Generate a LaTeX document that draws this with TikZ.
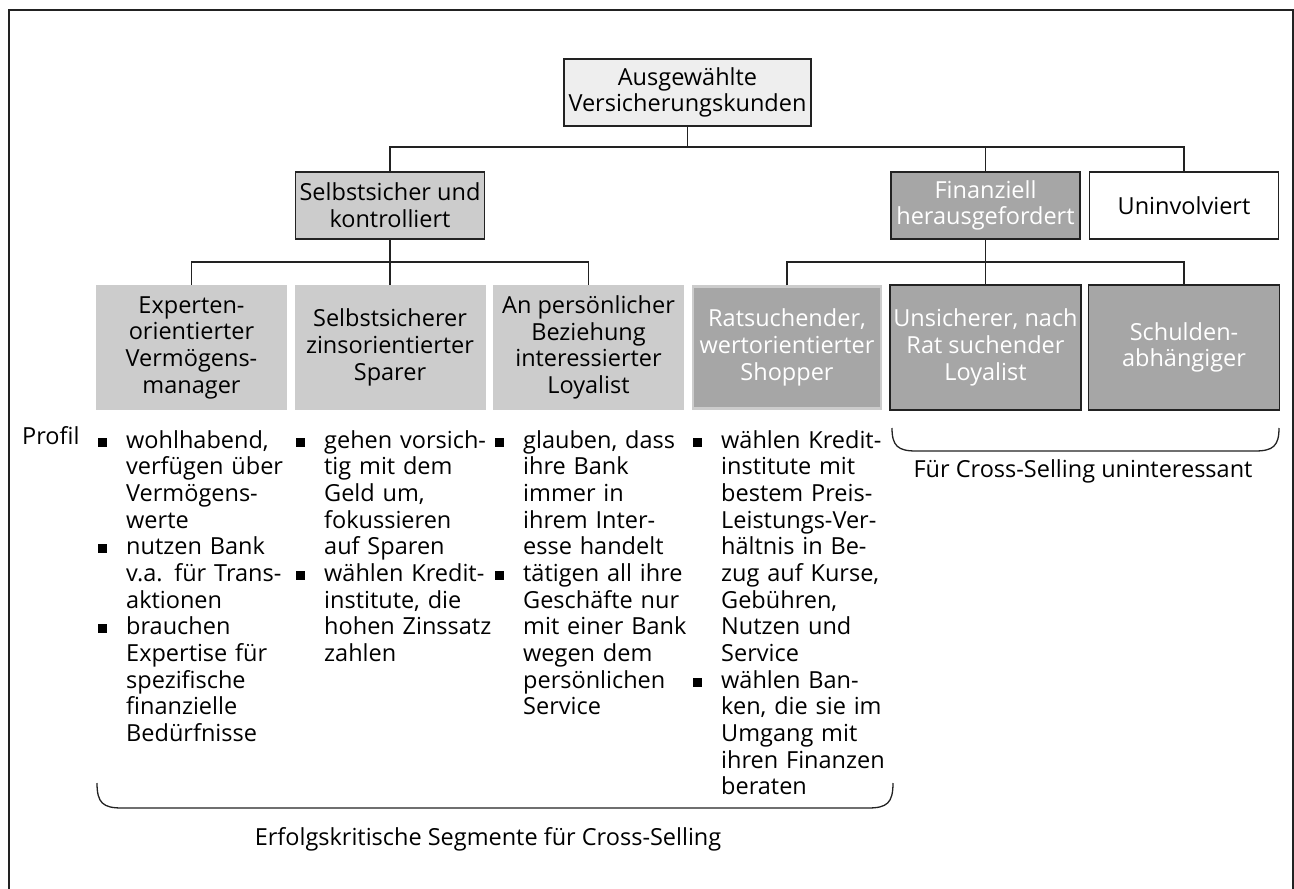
\documentclass[tikz,border=0pt]{standalone}
\usepackage{fontspec}
\setmainfont{Open Sans}
\newcommand\diagfont{\fontsize{23.5}{26.67}\selectfont}
% bullet item for the profile lists: square bullet hanging left of the text
\newcommand\bitem{\par\noindent\strut\llap{\raisebox{1.5pt}{\rule{9pt}{9pt}}\hspace{19pt}}}
\definecolor{boxlight}{HTML}{EEEEEE}
\definecolor{boxmid}{HTML}{CCCCCC}
\definecolor{boxdark}{HTML}{A6A6A6}
\definecolor{edge}{HTML}{222222}
\begin{document}
\begin{tikzpicture}[x=1pt,y=-1pt,
  box/.style={font=\diagfont, align=center, inner sep=0pt, minimum height=67pt},
  framed/.style={draw=edge, line width=1.6pt},
  seg/.style={font=\diagfont, align=center, inner sep=0pt, minimum width=191pt, minimum height=125pt},
  wire/.style={draw=edge, line width=1.3pt},
  brace/.style={draw=edge, line width=1.3pt},
  listcol/.style={font=\diagfont, anchor=north west, inner sep=0pt, text width=240pt, align=left},
  note/.style={font=\diagfont, inner sep=0pt}]
\useasboundingbox (0,0) rectangle (1294,889);
% outer frame (open at the bottom)
\draw[edge, line width=2.2pt] (9,889) -- (9,10) -- (1293,10) -- (1293,889);

% level 1
\node[box, framed, fill=boxlight, minimum width=247pt] (top) at (687.5,92.5) {Ausgewählte\\Versicherungskunden};
% level 2
\node[box, framed, fill=boxmid, minimum width=189pt] (sk) at (390,205.5) {Selbstsicher und\\kontrolliert};
\node[box, framed, fill=boxdark, text=white, minimum width=189pt] (fin) at (985.5,205.5) {Finanziell\\herausgefordert};
\node[box, framed, fill=white, minimum width=189pt] (un) at (1184,205.5) {Uninvolviert};
% level 3
\node[seg, fill=boxmid] (s1) at (191.5,347.5) {Experten-\\orientierter\\Vermögens-\\manager};
\node[seg, fill=boxmid] (s2) at (390,347.5) {Selbstsicherer\\zinsorientierter\\Sparer};
\node[seg, fill=boxmid] (s3) at (588.5,347.5) {An persönlicher\\Beziehung\\interessierter\\Loyalist};
\node[seg, fill=boxdark, draw=boxmid, line width=2.5pt, text=white, minimum width=188pt, minimum height=122pt] (s4) at (787,347.5) {Ratsuchender,\\wertorientierter\\Shopper};
\node[seg, framed, fill=boxdark, text=white] (s5) at (985.5,347.5) {Unsicherer, nach\\Rat suchender\\Loyalist};
\node[seg, framed, fill=boxdark, text=white] (s6) at (1184,347.5) {Schulden-\\abhängiger};

% tree connectors
\coordinate (bus1) at (687.5,147);
\coordinate (bus2) at (390,262);
\coordinate (bus3) at (985.5,262);
\draw[wire] (top.south) -- (bus1);
\draw[wire] (sk.north) |- (bus1) -| (un.north);
\draw[wire] (fin.north) -- (fin.north |- bus1);
\draw[wire] (sk.south) -- (bus2);
\draw[wire] (s1.north) |- (bus2) -| (s3.north);
\draw[wire] (s2.north) -- (bus2);
\draw[wire] (fin.south) -- (bus3);
\draw[wire] (s4.north) |- (bus3) -| (s6.north);
\draw[wire] (s5.north) -- (bus3);

% profiles
\node[note, anchor=base west] (profil) at (22,444) {Profil};
\node[listcol] (p1) at (98,421.33) {\leftskip=28pt
  \bitem wohlhabend,\\verfügen über\\Vermögens-\\werte
  \bitem nutzen Bank\\v.a. für Trans-\\aktionen
  \bitem brauchen\\Expertise für\\spezifische\\finanzielle\\Bedürfnisse\par};
\node[listcol] (p2) at (296,421.33) {\leftskip=28pt
  \bitem gehen vorsich-\\tig mit dem\\Geld um,\\fokussieren\\auf Sparen
  \bitem wählen Kredit-\\institute, die\\hohen Zinssatz\\zahlen\par};
\node[listcol] (p3) at (495,421.33) {\leftskip=28pt
  \bitem glauben, dass\\ihre Bank\\immer in\\ihrem Inter-\\esse handelt
  \bitem tätigen all ihre\\Geschäfte nur\\mit einer Bank\\wegen dem\\persönlichen\\Service\par};
\node[listcol] (p4) at (693,421.33) {\leftskip=28pt
  \bitem wählen Kredit-\\institute mit\\bestem Preis-\\Leistungs-Ver-\\hältnis in Be-\\zug auf Kurse,\\Gebühren,\\Nutzen und\\Service
  \bitem wählen Ban-\\ken, die sie im\\Umgang mit\\ihren Finanzen\\beraten\par};

% grouping braces
\draw[brace] (97,783) .. controls (97,803) and (103,808) .. (122,808) -- (868,808)
  .. controls (887,808) and (893,803) .. (893,783);
\node[note, anchor=base] (lblA) at (488,845) {Erfolgskritische Segmente für Cross-Selling};
\draw[brace] (892,428) .. controls (892,446) and (898,451) .. (916,451) -- (1255,451)
  .. controls (1273,451) and (1279,446) .. (1279,428);
\node[note, anchor=base] (lblB) at (1083,477) {Für Cross-Selling uninteressant};
\end{tikzpicture}
\end{document}
